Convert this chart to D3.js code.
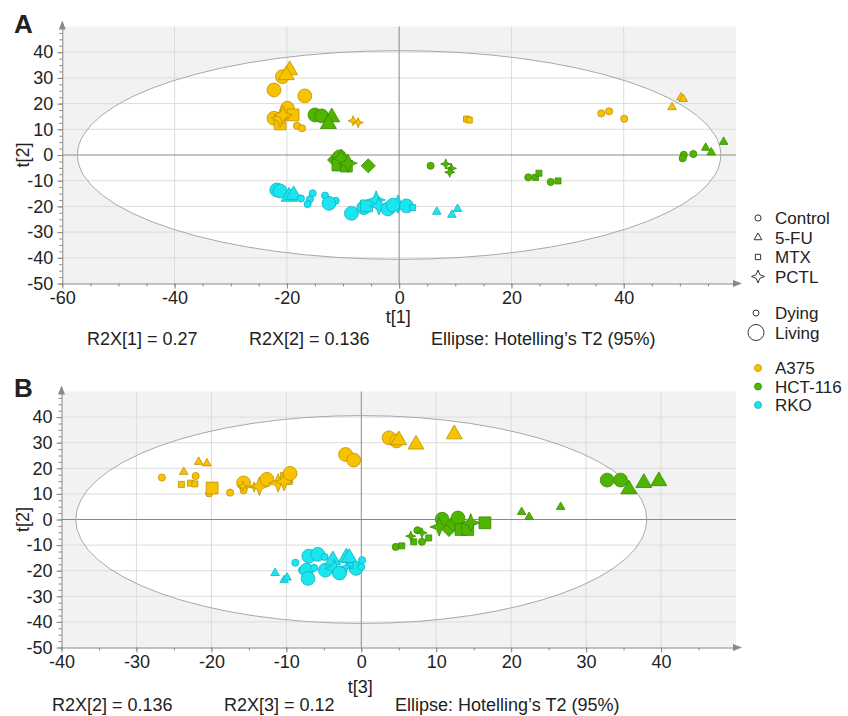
<!DOCTYPE html>
<html>
<head>
<meta charset="utf-8">
<script src="https://d3js.org/d3.v7.min.js"></script>
<style>
body { margin: 0; background: #fff; }
text { font-family: "Liberation Sans", Arial, sans-serif; fill: #222; }
</style>
</head>
<body>
<div id="viz"></div>
<script>
// ---- data ----
// each point: [treatment, state, x score, y score]
// treatment: C = Control, F = 5-FU, M = MTX, P = PCTL, X = diamond marker
// state: L = Living, D = Dying
var treatments = ["Control", "5-FU", "MTX", "PCTL"];
var treatmentCodes = ["C", "F", "M", "P"];
var states = ["Dying", "Living"];
var stateCodes = ["D", "L"];
var cellLines = ["A375", "HCT-116", "RKO"];

// panel A: t[1] vs t[2]
var a375A = [
  ["C","L",-22.3,25.3], ["C","L",-16.8,23.0], ["C","L",-20.8,30.5],
  ["F","L",-19.5,33.0], ["F","L",-20.1,31.1],
  ["C","L",-22.3,14.3], ["C","L",-19.9,18.2], ["M","L",-18.9,15.6],
  ["M","L",-21.2,12.1], ["P","L",-21.2,14.3], ["P","L",-20.7,15.6],
  ["C","D",-18.2,11.4], ["C","D",-17.3,10.4],
  ["P","D",-8.2,13.3], ["P","D",-7.3,12.6],
  ["M","D",12.0,14.0], ["M","D",12.5,13.6],
  ["C","D",36.0,16.2], ["C","D",37.4,17.0], ["C","D",40.1,14.1],
  ["F","D",50.2,22.4], ["F","D",50.6,21.8], ["F","D",48.6,18.6]
];
var hctA = [
  ["C","L",-15.0,15.6], ["C","L",-13.8,15.2],
  ["F","L",-12.0,14.7], ["F","L",-12.6,12.1],
  ["X","L",-11.5,-1.9], ["C","L",-10.6,-0.7], ["M","L",-10.9,-3.9],
  ["M","L",-9.4,-4.3], ["P","L",-10.3,-1.3], ["P","L",-9.1,-3.2],
  ["X","L",-5.5,-4.2],
  ["C","D",5.6,-4.2], ["P","D",8.3,-3.5], ["P","D",9.3,-5.2], ["P","D",9.0,-6.7],
  ["C","D",23.0,-8.7], ["M","D",24.3,-8.7], ["M","D",24.9,-7.1],
  ["C","D",27.0,-10.5], ["M","D",28.3,-10.1],
  ["C","D",50.7,0.1], ["C","D",50.5,-1.3], ["C","D",52.4,0.4],
  ["F","D",54.6,2.8], ["F","D",55.6,1.0], ["F","D",57.8,5.1]
];
var rkoA = [
  ["C","L",-21.8,-13.6], ["C","L",-21.2,-14.0],
  ["F","L",-19.6,-16.2], ["F","L",-18.8,-15.6],
  ["C","D",-17.5,-16.9], ["C","D",-15.4,-14.9], ["C","D",-15.9,-17.2],
  ["C","D",-16.3,-19.1], ["C","D",-13.2,-15.8], ["C","D",-11.3,-17.8],
  ["C","L",-12.5,-18.8], ["C","L",-8.5,-22.7], ["C","L",-6.3,-20.5],
  ["M","L",-5.8,-19.8], ["P","L",-4.1,-17.5], ["P","L",-3.6,-19.8],
  ["C","L",-2.0,-21.0], ["P","L",-0.2,-19.1], ["C","L",-1.1,-19.5],
  ["C","L",1.3,-19.8], ["M","D",2.4,-20.5],
  ["F","D",6.7,-22.1], ["F","D",9.4,-23.3], ["F","D",10.4,-21.0]
];

// panel B: t[3] vs t[2]
var a375B = [
  ["C","D",-26.6,16.4], ["F","D",-23.7,18.6], ["F","D",-21.7,22.5],
  ["F","D",-20.6,21.9], ["C","D",-22.1,17.0],
  ["M","D",-24.0,13.7], ["M","D",-22.8,14.2], ["M","D",-22.2,13.9],
  ["C","D",-20.3,10.2], ["M","L",-19.9,12.3], ["C","D",-17.5,10.5],
  ["C","L",-15.7,14.3], ["C","D",-15.7,11.4], ["P","D",-15.8,13.0],
  ["P","D",-14.3,12.7], ["P","L",-13.6,13.0], ["C","L",-12.6,15.7],
  ["P","L",-11.1,14.3], ["M","L",-10.0,16.0], ["P","L",-10.3,14.8],
  ["C","L",-9.5,18.0],
  ["C","L",-2.1,25.4], ["C","L",-1.0,23.2],
  ["C","L",3.7,31.9], ["C","L",4.7,30.7], ["F","L",5.0,31.0],
  ["F","L",7.3,29.3], ["F","L",12.4,33.3]
];
var hctB = [
  ["C","L",32.8,15.4], ["C","L",34.6,15.4],
  ["F","L",35.7,11.8], ["F","L",37.7,14.3], ["F","L",39.7,15.0],
  ["F","D",21.4,2.9], ["F","D",22.4,1.0], ["F","D",26.6,4.9],
  ["C","D",4.6,-10.7], ["M","D",5.4,-10.3], ["M","D",7.0,-8.7],
  ["C","D",8.1,-8.7], ["M","D",9.0,-7.2], ["C","D",7.5,-4.2],
  ["P","D",6.6,-6.5], ["P","D",8.1,-5.2],
  ["C","L",10.8,0.1], ["P","L",10.4,-2.9], ["X","L",11.7,-3.9],
  ["X","L",12.2,-1.6], ["C","L",12.9,0.6], ["M","L",13.3,-3.9],
  ["M","L",14.2,-3.9], ["P","L",14.6,-1.3], ["M","L",16.5,-1.3]
];
var rkoB = [
  ["F","D",-11.5,-20.9], ["F","D",-10.3,-23.7], ["F","D",-9.9,-22.7],
  ["C","D",-8.8,-16.9], ["C","L",-7.0,-14.3], ["C","L",-5.8,-13.6],
  ["C","D",-4.9,-14.6], ["C","D",-7.9,-19.8], ["C","L",-7.3,-19.8],
  ["C","L",-7.1,-23.0], ["C","D",-6.3,-18.9], ["C","L",-4.8,-19.8],
  ["F","L",-3.8,-15.9], ["F","L",-2.0,-14.8], ["F","L",-1.6,-15.0],
  ["P","L",-3.6,-19.1], ["C","L",-2.9,-20.9], ["C","L",-0.7,-19.1],
  ["C","D",0.1,-15.9], ["M","D",-1.5,-18.0], ["P","D",-2.0,-18.5],
  ["C","D",0.0,-18.5]
];

// axis ticks
var xTicksA = [-60, -40, -20, 0, 20, 40];
var xTicksB = [-40, -30, -20, -10, 0, 10, 20, 30, 40];
var yTicks = [-50, -40, -30, -20, -10, 0, 10, 20, 30, 40];
// 95% Hotelling ellipse half axes
var ellipseA = [57.3, 40.6];
var ellipseB = [38.1, 40.6];
var footA = ["R2X[1] = 0.27", "R2X[2] = 0.136", "Ellipse: Hotelling\u2019s T2 (95%)"];
var footB = ["R2X[2] = 0.136", "R2X[3] = 0.12", "Ellipse: Hotelling\u2019s T2 (95%)"];

// ---- drawing ----
var W = 848, H = 716;
var svg = d3.select("#viz").append("svg").attr("width", W).attr("height", H);

var fills = ["#f7c200", "#4fb500", "#1ae6f0"];
var strokes = ["#c09000", "#3a8a00", "#10b0c0"];

// custom 4 point star and diamond
var star4 = {
  draw: function(ctx, size) {
    var r = Math.sqrt(size), q = r * 0.28;
    ctx.moveTo(0, -r);
    ctx.lineTo(q, -q); ctx.lineTo(r, 0); ctx.lineTo(q, q);
    ctx.lineTo(0, r); ctx.lineTo(-q, q); ctx.lineTo(-r, 0); ctx.lineTo(-q, -q);
    ctx.closePath();
  }
};
var diamond = {
  draw: function(ctx, size) {
    var r = Math.sqrt(size);
    ctx.moveTo(0, -r); ctx.lineTo(r, 0); ctx.lineTo(0, r); ctx.lineTo(-r, 0);
    ctx.closePath();
  }
};
var shapeOf = { C: d3.symbolCircle, F: d3.symbolTriangle, M: d3.symbolSquare, P: star4, X: diamond };
var sizeOf = {
  C: { L: 150, D: 40 },
  F: { L: 110, D: 32 },
  M: { L: 140, D: 36 },
  P: { L: 85, D: 26 },
  X: { L: 50, D: 20 }
};

function panel(opt) {
  var x = d3.scaleLinear().domain(opt.xDomain).range([opt.left, opt.right]);
  var y = d3.scaleLinear().domain([-50, 50]).range([opt.bottom, opt.top]);
  var g = svg.append("g");

  // background + ellipse
  g.append("rect")
    .attr("x", opt.left).attr("y", opt.top)
    .attr("width", opt.right - opt.left).attr("height", opt.bottom - opt.top)
    .attr("fill", "#f2f2f2");
  g.append("ellipse")
    .attr("cx", x(0)).attr("cy", y(0))
    .attr("rx", x(opt.ellipse[0]) - x(0)).attr("ry", y(0) - y(opt.ellipse[1]))
    .attr("fill", "#fff");

  // grid
  g.selectAll(".vg").data(opt.xTicks.filter(function(d) { return d !== 0 && d !== opt.xDomain[0]; }))
    .enter().append("line")
    .attr("x1", function(d) { return x(d); }).attr("x2", function(d) { return x(d); })
    .attr("y1", opt.top).attr("y2", opt.bottom)
    .attr("stroke", "#dcdcdc").attr("stroke-width", 1);
  g.selectAll(".hg").data(yTicks.filter(function(d) { return d !== 0 && d !== -50; }))
    .enter().append("line")
    .attr("y1", function(d) { return y(d); }).attr("y2", function(d) { return y(d); })
    .attr("x1", opt.left).attr("x2", opt.right)
    .attr("stroke", "#dcdcdc").attr("stroke-width", 1);

  // zero lines
  g.append("line").attr("x1", opt.left).attr("x2", opt.right)
    .attr("y1", y(0)).attr("y2", y(0)).attr("stroke", "#8a8a8a");
  g.append("line").attr("x1", x(0)).attr("x2", x(0))
    .attr("y1", opt.top).attr("y2", opt.bottom).attr("stroke", "#8a8a8a");

  g.append("ellipse")
    .attr("cx", x(0)).attr("cy", y(0))
    .attr("rx", x(opt.ellipse[0]) - x(0)).attr("ry", y(0) - y(opt.ellipse[1]))
    .attr("fill", "none").attr("stroke", "#a8a8a8").attr("stroke-width", 1);

  // axes
  var minorX = d3.range(opt.xDomain[0], opt.xDomain[1], 5);
  var minorY = d3.range(-50, 50, 2.5);
  g.append("g").attr("transform", "translate(0," + opt.bottom + ")")
    .call(d3.axisBottom(x).tickValues(minorX).tickSize(3).tickSizeOuter(0).tickFormat(""))
    .call(function(s) { s.select(".domain").remove(); s.selectAll("line").attr("stroke", "#888"); });
  g.append("g").attr("transform", "translate(" + opt.left + ",0)")
    .call(d3.axisLeft(y).tickValues(minorY).tickSize(3).tickSizeOuter(0).tickFormat(""))
    .call(function(s) { s.select(".domain").remove(); s.selectAll("line").attr("stroke", "#888"); });

  var xa = g.append("g").attr("transform", "translate(0," + opt.bottom + ")")
    .call(d3.axisBottom(x).tickValues(opt.xTicks).tickSize(5).tickSizeOuter(0).tickPadding(3));
  var ya = g.append("g").attr("transform", "translate(" + opt.left + ",0)")
    .call(d3.axisLeft(y).tickValues(yTicks).tickSize(5).tickSizeOuter(0).tickPadding(4));
  [xa, ya].forEach(function(a) {
    a.select(".domain").attr("stroke", "#888");
    a.selectAll("line").attr("stroke", "#888");
    a.selectAll("text").style("font-size", "18px").style("font-family", "'Liberation Sans', Arial, sans-serif")
      .attr("fill", "#222");
  });
  xa.selectAll("text").text(function(d) { return d < 0 ? "-" + Math.abs(d) : d; });
  ya.selectAll("text").text(function(d) { return d < 0 ? "-" + Math.abs(d) : d; });

  // arrow heads
  g.append("path")
    .attr("d", "M" + (opt.right + 6) + "," + opt.bottom + "l-9,-3.5l0,7z").attr("fill", "#888");
  g.append("path")
    .attr("d", "M" + opt.left + "," + (opt.top - 6) + "l-3.5,9l7,0z").attr("fill", "#888");

  // points
  var sets = opt.sets;
  sets.forEach(function(set, ci) {
    g.selectAll(".pt" + ci).data(set).enter().append("path")
      .attr("transform", function(d) { return "translate(" + x(d[2]) + "," + y(d[3]) + ")"; })
      .attr("d", function(d) { return d3.symbol().type(shapeOf[d[0]]).size(sizeOf[d[0]][d[1]])(); })
      .attr("fill", fills[ci]).attr("stroke", strokes[ci]).attr("stroke-width", 0.8);
  });

  // labels
  svg.append("text").attr("x", 14).attr("y", opt.top + 6 - 0)
    .attr("transform", null)
    .style("font-size", "26px").style("font-weight", "bold").attr("fill", "#000")
    .attr("y", opt.letterY).text(opt.letter);
  svg.append("text").attr("x", x(0) - 1).attr("y", opt.xlabY).attr("text-anchor", "middle")
    .style("font-size", "18px").text(opt.xlab);
  svg.append("text").attr("transform", "translate(29," + y(0) + ") rotate(-90)")
    .attr("text-anchor", "middle").style("font-size", "18px").text("t[2]");
  opt.foot.forEach(function(t, i) {
    svg.append("text").attr("x", opt.footX[i]).attr("y", opt.footY)
      .style("font-size", "18px").text(t);
  });
}

panel({
  xDomain: [-60, 60], left: 62.3, right: 736, top: 26.5, bottom: 283.5,
  xTicks: xTicksA, ellipse: ellipseA, sets: [a375A, hctA, rkoA],
  letter: "A", letterY: 33, xlab: "t[1]", xlabY: 323,
  foot: footA, footX: [87, 249, 431], footY: 345
});
panel({
  xDomain: [-40, 50], left: 61.5, right: 736, top: 391.5, bottom: 647.5,
  xTicks: xTicksB, ellipse: ellipseB, sets: [a375B, hctB, rkoB],
  letter: "B", letterY: 397, xlab: "t[3]", xlabY: 693,
  foot: footB, footX: [52, 224, 395], footY: 711
});

// ---- legend ----
var lg = svg.append("g");
var legendSym = [d3.symbolCircle, d3.symbolTriangle, d3.symbolSquare, star4];
var legendSize = [30, 26, 28, 42];
treatments.forEach(function(t, i) {
  var cy = 218 + i * 19.5;
  lg.append("path").attr("transform", "translate(758," + cy + ")")
    .attr("d", d3.symbol().type(legendSym[i]).size(legendSize[i])())
    .attr("fill", "#fff").attr("stroke", "#333").attr("stroke-width", 1);
  lg.append("text").attr("x", 775).attr("y", cy + 6).style("font-size", "17px").text(t);
});
states.forEach(function(s, i) {
  var cy = 313 + i * 19.5;
  lg.append("circle").attr("cx", 756).attr("cy", cy).attr("r", i ? 8 : 3)
    .attr("fill", "#fff").attr("stroke", "#333").attr("stroke-width", 1);
  lg.append("text").attr("x", 775).attr("y", cy + 6).style("font-size", "17px").text(s);
});
cellLines.forEach(function(c, i) {
  var cy = 368 + i * 18.5;
  lg.append("circle").attr("cx", 758).attr("cy", cy).attr("r", 3.5)
    .attr("fill", fills[i]).attr("stroke", strokes[i]).attr("stroke-width", 0.8);
  lg.append("text").attr("x", 775).attr("y", cy + 6).style("font-size", "17px").text(c);
});
</script>
</body>
</html>
